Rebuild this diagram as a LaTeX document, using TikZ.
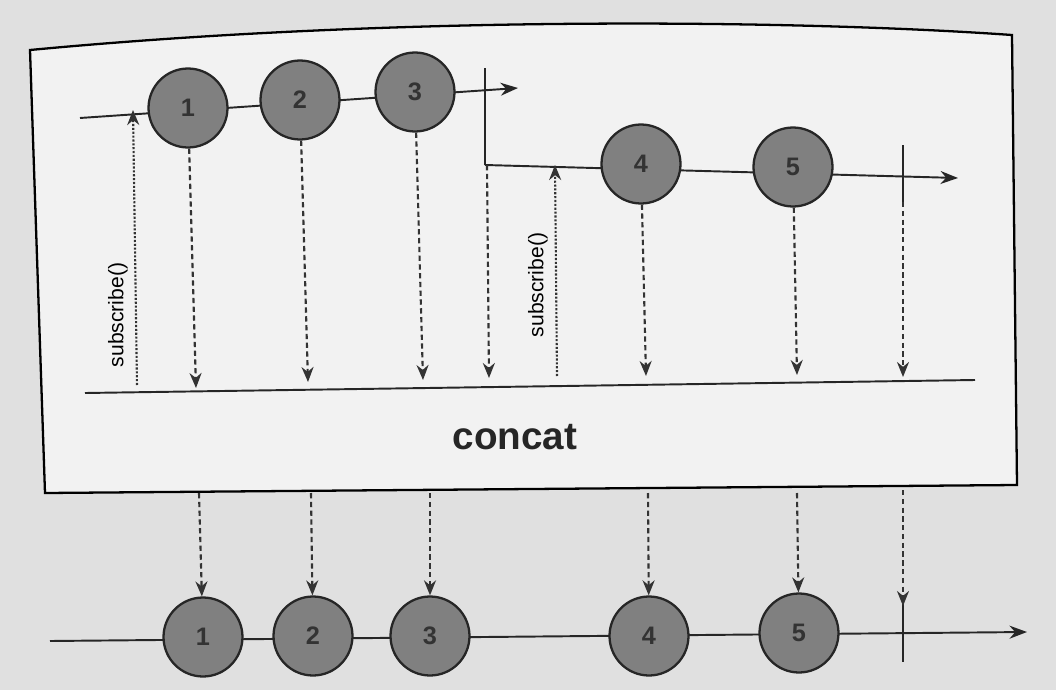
\documentclass[tikz,border=0pt]{standalone}
\usepackage{fontspec}
\setmainfont{Liberation Sans}
\usetikzlibrary{arrows.meta}
\begin{document}
\begin{tikzpicture}[x=0.02cm,y=-0.02cm,
  marble/.style={circle,draw=black!85,line width=1.3pt,fill=black!50,minimum size=1.58cm,inner sep=0pt,font=\bfseries\Large,text=black!80},
  tl/.style={line width=1.1pt,draw=black!85},
  ar/.style={-{Stealth[length=3.5mm,width=2.6mm]}},
  dar/.style={densely dashed,line width=1.2pt,draw=black!80,-{Stealth[length=3mm,width=2.4mm]}},
  sar/.style={densely dotted,line width=1.2pt,draw=black!80,-{Stealth[length=3mm,width=2.4mm]}},
  term/.style={line width=1.6pt,draw=black!85}]
\fill[black!12] (0,0) rectangle (1056,690);
\useasboundingbox (0,0) rectangle (1056,690);
\draw[line width=1.3pt,fill=black!5] (30,50) .. controls (400,15) and (800,20) .. (1012,35) -- (1017,485) -- (45,493) -- cycle;
% line 1
\coordinate (l1s) at (80,118); \coordinate (l1e) at (518,88);
\draw[tl,ar] (l1s) -- (l1e);
\node[marble] (a1) at (188,108) {1};
\node[marble] (a2) at (300,100) {2};
\node[marble] (a3) at (415,92) {3};
\coordinate (t1a) at (485,68); \coordinate (t1b) at (485,122);
\draw[term] (t1a) -- (t1b);
% line 2
\coordinate (l2a) at (485,122); \coordinate (l2b) at (485,165); \coordinate (l2e) at (958,178);
\draw[tl] (l2a) -- (l2b); \draw[tl,ar] (l2b) -- (l2e);
\node[marble] (a4) at (641,164) {4};
\node[marble] (a5) at (793,167) {5};
\coordinate (t2a) at (903,145); \coordinate (t2b) at (903,202);
\draw[term] (t2a) -- (t2b);
% inner bottom line
\coordinate (bs) at (85,393); \coordinate (be) at (975,380);
\draw[tl] (bs) -- (be);
\node[font=\bfseries\fontsize{22}{26}\selectfont,text=black!85] (concat) at (515,437) {concat};
% subscribe
\coordinate (s1a) at (137,385); \coordinate (s1b) at (133,110);
\draw[sar] (s1a) -- (s1b);
\node[rotate=90,font=\large] (sl1) at (118,315) {subscribe()};
\coordinate (s2a) at (557,376); \coordinate (s2b) at (555,165);
\draw[sar] (s2a) -- (s2b);
\node[rotate=90,font=\large] (sl2) at (538,285) {subscribe()};
% down arrows inside
\coordinate (d1) at (196,388); \coordinate (d2) at (308,382); \coordinate (d3) at (423,380);
\coordinate (d0a) at (487,165); \coordinate (d0) at (489,378);
\coordinate (d4) at (646,376); \coordinate (d5) at (797,375); \coordinate (d6) at (903,377);
\draw[dar] (a1) -- (d1);
\draw[dar] (a2) -- (d2);
\draw[dar] (a3) -- (d3);
\draw[dar] (d0a) -- (d0);
\draw[dar] (a4) -- (d4);
\draw[dar] (a5) -- (d5);
\draw[dar] (t2b) -- (d6);
% bottom
\coordinate (os) at (50,641); \coordinate (oe) at (1027,632);
\draw[tl,ar] (os) -- (oe);
\node[marble] (b1) at (203,637) {1};
\node[marble] (b2) at (313,636) {2};
\node[marble] (b3) at (430,636) {3};
\node[marble] (b4) at (649,636) {4};
\node[marble] (b5) at (799,633) {5};
\coordinate (t3a) at (903,600); \coordinate (t3b) at (903,662);
\draw[term] (t3a) -- (t3b);
\foreach \x/\n in {199/b1,311/b2,430/b3,648/b4,797/b5}{
  \coordinate (u\n) at (\x,493);
  \draw[dar] (u\n) -- (\n);
}
\coordinate (u6) at (903,490); \coordinate (u6e) at (903,606);
\draw[dar] (u6) -- (u6e);
\end{tikzpicture}
\end{document}
